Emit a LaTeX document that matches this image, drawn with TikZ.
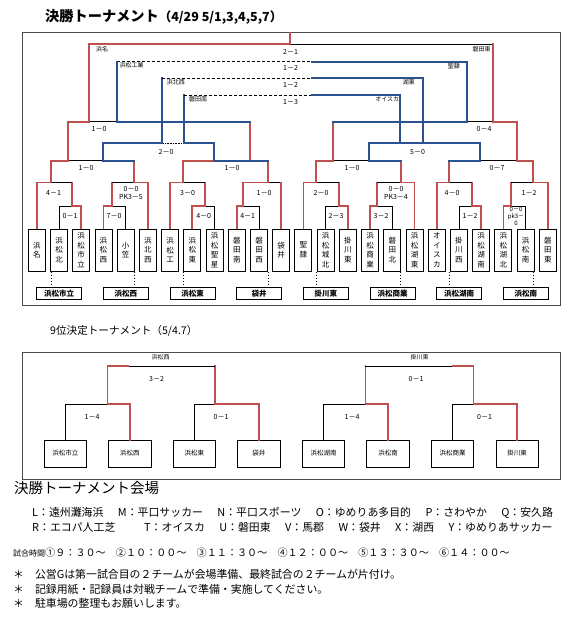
\documentclass[tikz,border=0pt]{standalone}
\usepackage{fontspec}
\setmainfont{Noto Sans CJK JP}
\definecolor{winred}{HTML}{C0504D}
\definecolor{consblue}{HTML}{2A5290}
\tikzset{
  plain/.style={line width=0.6pt},
  winline/.style={draw=winred, line width=1.8pt, line cap=rect},
  consline/.style={draw=consblue, line width=1.8pt, line cap=rect},
  teambox/.style={draw, line width=0.9pt, minimum width=17pt, minimum height=42pt,
    inner sep=0pt, align=center, font=\fontsize{7.5}{9.5}\selectfont},
  resbox/.style={draw, line width=1pt, minimum width=45pt, minimum height=11.5pt,
    inner sep=0pt, font=\bfseries\fontsize{7.5}{8}\selectfont},
  smallbox/.style={draw, line width=0.8pt, minimum width=42.5pt, minimum height=27pt,
    inner sep=0pt, font=\fontsize{6.5}{7}\selectfont},
  score/.style={inner sep=0pt, align=center, font=\fontsize{7}{8}\selectfont},
  tag/.style={inner sep=0pt, font=\fontsize{6}{7}\selectfont},
  txt/.style={anchor=west, inner sep=0pt, font=\fontsize{10.9}{12}\selectfont},
}
\newcommand{\gap}{　\hspace{3.5pt}}
\begin{document}
\begin{tikzpicture}[x=1pt, y=-1pt]
\useasboundingbox (0,0) rectangle (578,623);

% Titles
\node[anchor=west, inner sep=0pt, font=\bfseries\fontsize{14.2}{14}\selectfont] (title) at (45,17)
  {決勝トーナメント{\fontsize{12.5}{12}\selectfont（4/29 5/1,3,4,5,7）}};
\draw[plain, black!70] (22.7,32.7) rectangle (560,305);

% Teams
\foreach \i/\name in {0/浜\\名, 1/浜\\松\\北, 2/浜\\松\\市\\立, 3/浜\\松\\西, 4/小\\笠,
    5/浜\\北\\西, 6/浜\\松\\工, 7/浜\\松\\東, 8/浜\\松\\聖\\星, 9/磐\\田\\南,
    10/磐\\田\\西, 11/袋\\井, 12/聖\\隷, 13/浜\\松\\城\\北, 14/掛\\川\\東,
    15/浜\\松\\商\\業, 16/磐\\田\\北, 17/浜\\松\\湖\\東, 18/オ\\イ\\ス\\カ,
    19/掛\\川\\西, 20/浜\\松\\湖\\南, 21/浜\\松\\湖\\北, 22/浜\\松\\南, 23/磐\\田\\東}
  \node[teambox] (t\i) at (36.8+22.22*\i,250) {\name};

% First round
\foreach \n/\a/\b/\s/\w in {1/1/2/71.7/2, 2/3/4/112/3, 3/7/8/205/7, 4/9/10/243.3/9,
    5/13/14/339.3/14, 6/15/16/376.7/15, 7/19/20/471.7/20, 8/21/22/510.7/21} {
  \draw[plain] (t\a.north) |- (t\b |- 0,206) -- (t\b.north);
  \draw[winline] (t\w.north) |- (\s,206) -- (\s,182.5);
  \coordinate (p\n) at (\s,182.5);
}

% Round of 16
\foreach \n/\l/\r/\s/\w in {1/t0/p1/51/t0, 2/p2/t5/134.3/t5, 3/t6/p3/183.3/t6,
    4/p4/t11/268.3/p4, 5/t12/p5/316/t12, 6/p6/t17/400.7/t17, 7/t18/p7/449.3/t18,
    8/p8/t23/533.3/t23} {
  \draw[plain] (\l |- 0,182.5) -- (\r |- 0,182.5);
  \draw[winline] (\w |- 0,182.5) -- (\s,182.5) -- (\s,160.7);
  \coordinate (q\n) at (\s,160.7);
}
\foreach \i in {0,5,6,11,12,17,18,23}
  \draw[winline] (t\i.north) -- (t\i |- 0,182.5);

% Quarter finals
\foreach \n/\l/\r/\s/\w/\lo/\c in {1/q1/q2/67.7/q1/q2/103.3, 2/q3/q4/250/q3/q4/214.3,
    3/q5/q6/333.3/q5/q6/369.3, 4/q7/q8/516.7/q8/q7/480} {
  \draw[plain] (\l) -- (\r);
  \draw[winline] (\w) -- (\s,160.7) -- (\s,121.7);
  \draw[consline] (\lo) -- (\c,160.7) -- (\c,143.3);
  \coordinate (r\n) at (\s,121.7);
  \coordinate (c\n) at (\c,143.3);
}

% Places 5-8
\draw[plain, densely dotted] (161.7,143.3) -- (184.3,143.3);
\draw[consline] (c1) -- (161.7,143.3) -- (161.7,78.3);
\draw[consline] (c2) -- (184.3,143.3) -- (184.3,95);
\draw[consline] (c3) -- (423.3,143.3) -- (423.3,78.3);
\draw[consline] (c4) -- (400,143.3) -- (400,95);

% Semi finals and placing lines
\draw[plain] (r1) -- (r2);
\draw[plain] (r3) -- (r4);
\draw[plain] (290,44.3) -- (493.3,44.3);
\foreach \y/\x in {61.7/117.3, 78.3/161.7, 95/184.3}
  \draw[plain, densely dashed] (\x,\y) -- (311.7,\y);
\draw[winline] (r1) -- (89,121.7) -- (89,44.3) -- (290,44.3) -- (290,32.7);
\draw[winline] (r4) -- (493.3,121.7) -- (493.3,44.3);
\draw[consline] (r2) -- (117.3,121.7) -- (117.3,61.7);
\draw[consline] (r3) -- (466.7,121.7) -- (466.7,61.7) -- (311.7,61.7);
\draw[consline] (423.3,78.3) -- (311.7,78.3);
\draw[consline] (400,95) -- (311.7,95);

% Team tags on top lines
\node[tag, anchor=west] at (96,49.5) {浜名};
\node[tag, anchor=east] at (490.7,49.5) {磐田東};
\node[tag, anchor=west] at (119.3,65.7) {浜松工業};
\node[tag, anchor=east] at (460,66) {聖隷};
\node[tag, anchor=west] at (166.7,82.3) {浜北西};
\node[tag, anchor=east] at (415,82.3) {湖東};
\node[tag, anchor=west] at (189,99) {磐田南};
\node[tag, anchor=east] at (399.3,99) {オイスカ};

% Scores
\foreach \x/\y/\s in {290.5/51.7/2－1, 290.5/68.3/1－2, 290.5/85/1－2, 290.5/101.7/1－3,
    99/129.3/1－0, 484/129.3/0－4, 166/151.7/2－0, 417.5/151.7/5－0,
    86/167.7/1－0, 232/167.7/1－0, 352/167.7/1－0, 497/167.7/0－7,
    53.5/193.3/4－1, 187.5/193.3/3－0, 264/193.3/1－0, 321/193.3/2－0,
    452/193.3/4－0, 529/193.3/1－2,
    70/216/0－1, 114/216/7－0, 203.7/216/4－0, 247.7/216/4－1,
    336/216/2－3, 381/216/3－2, 470/216/1－2}
  \node[score] at (\x,\y) {\s};
\node[score] at (131,193.5) {0－0\\PK3－5};
\node[score] at (396,193.5) {0－0\\PK3－4};
\node[score, font=\fontsize{6}{7}\selectfont] at (516,216.3) {0－0\\pk3－\\0};

% Losers of round of 16
\foreach \j/\name in {0/浜松市立, 1/浜松西, 2/浜松東, 3/袋井, 4/掛川東, 5/浜松商業,
    6/浜松湖南, 7/浜松南}
  \node[resbox] (res\j) at (59.2+66.67*\j,293.3) {\name};
\foreach \n/\j in {1/0, 2/1, 3/2, 4/3, 5/4, 6/5, 7/6, 8/7}
  \draw[line width=1pt, dotted] (q\n |- 0,272) -- (q\n |- res\j.north);

% 9th place tournament
\node[anchor=west, inner sep=0pt, font=\fontsize{10.6}{10}\selectfont] (title2) at (50,331)
  {9位決定トーナメント（5/4.7）};
\draw[plain, black!70] (22,352) rectangle (560,479);
\foreach \i/\name in {0/浜松市立, 1/浜松西, 2/浜松東, 3/袋井, 4/浜松湖南, 5/浜松南,
    6/浜松商業, 7/掛川東}
  \node[smallbox] (s\i) at (65.3+64.55*\i,453.5) {\name};
\foreach \n/\a/\b/\s in {1/0/1/107.5, 2/2/3/214.7, 3/4/5/365.4, 4/6/7/473.4} {
  \draw[plain] (s\a.north) |- (s\b |- 0,404) -- (s\b.north);
  \draw[winline] (s\b.north) |- (\s,404) -- (\s,366);
  \coordinate (m\n) at (\s,366);
}
\draw[plain] (m1) -- (m2);
\draw[plain] (m3) -- (m4);
\draw[winline] (m1) -- (128,366);
\draw[winline] (m4) -- (452.9,366);
\node[tag] at (160.5,357.5) {浜松西};
\node[tag] at (419.5,357.5) {掛川東};
\foreach \x/\y/\s in {156.5/379/3－2, 416/379/0－1, 92/417/1－4, 221/417/0－1,
    352/417/1－4, 484.5/417/0－1}
  \node[score] at (\x,\y) {\s};

% Venues and notes
\node[anchor=west, inner sep=0pt, font=\fontsize{14.5}{14}\selectfont] (venue) at (14,488)
  {決勝トーナメント会場};
\node[txt] at (32,513) {L：遠州灘海浜\gap M：平口サッカー\gap N：平口スポーツ\gap O：ゆめりあ多目的\gap P：さわやか\gap Q：安久路};
\node[txt] at (32,527) {R：エコパ人工芝\gap\gap T：オイスカ\gap U：磐田東\gap V：馬郡\gap W：袋井\gap X：湖西\gap Y：ゆめりあサッカー};
\node[txt, font=\fontsize{10.1}{12}\selectfont] at (13,553) {{\fontsize{8}{8}\selectfont 試合時間}①９：３０～　②１０：００～　③１１：３０～　④１２：００～　⑤１３：３０～　⑥１４：００～};
\node[txt] at (13,574) {＊　公営Gは第一試合目の２チームが会場準備、最終試合の２チームが片付け。};
\node[txt] at (13,589) {＊　記録用紙・記録員は対戦チームで準備・実施してください。};
\node[txt] at (13,603) {＊　駐車場の整理もお願いします。};
\end{tikzpicture}
\end{document}
